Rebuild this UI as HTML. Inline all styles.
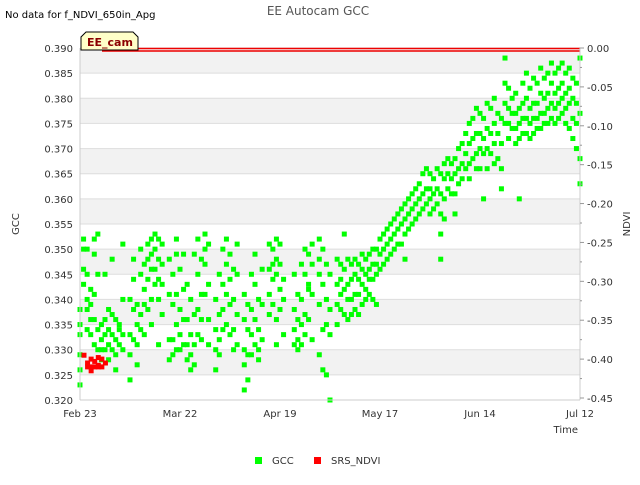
<!DOCTYPE html>
<html><head><meta charset="utf-8"><style>
body{margin:0;background:#fff;font-family:"Liberation Sans","DejaVu Sans",sans-serif}
svg text{font-family:"DejaVu Sans","Liberation Sans",sans-serif}
</style></head><body>
<svg id="c" width="640" height="480" viewBox="0 0 640 480" xmlns="http://www.w3.org/2000/svg">
<text x="5" y="18" font-size="10" fill="#000">No data for f_NDVI_650in_Apg</text>
<text x="318" y="15" font-size="12" fill="#555" text-anchor="middle">EE Autocam GCC</text>
<g id="bands"></g>
<g id="grid"></g>
<line x1="102" y1="48.5" x2="580" y2="48.5" stroke="#e00" stroke-width="1.5"/>
<line x1="102" y1="51" x2="580" y2="51" stroke="#e00" stroke-width="1.5"/>
<g id="pts"></g>
<line x1="80" y1="48" x2="80" y2="400" stroke="#ccc"/>
<line x1="80" y1="400" x2="580" y2="400" stroke="#ccc"/>
<line x1="580" y1="48" x2="580" y2="400" stroke="#ccc"/>
<g id="axes"></g>
<g>
<path d="M81,50 L81,37 L86,32 L133,32 L138,37 L138,50 Z" fill="#ffffc8" stroke="#000" stroke-width="1"/>
<text x="87" y="46" font-size="11" font-weight="bold" fill="#8b0000">EE_cam</text>
</g>
<text transform="translate(19,224) rotate(-90)" font-size="10" fill="#333" text-anchor="middle">GCC</text>
<text transform="translate(630,224) rotate(-90)" font-size="10" fill="#333" text-anchor="middle">NDVI</text>
<text x="578" y="433" font-size="10" fill="#333" text-anchor="end">Time</text>
<g>
<rect x="255" y="457" width="7" height="7" fill="#00ff00"/>
<text x="272" y="464" font-size="10" fill="#333">GCC</text>
<rect x="314" y="457" width="7" height="7" fill="#ff0000"/>
<text x="331" y="464" font-size="10" fill="#333">SRS_NDVI</text>
</g>
</svg>
<script>
const xTickLabels=["Feb 23","Mar 22","Apr 19","May 17","Jun 14","Jul 12"];
const xTickDays=[0,28,56,84,112,140];
const yTicks=[0.390,0.385,0.380,0.375,0.370,0.365,0.360,0.355,0.350,0.345,0.340,0.335,0.330,0.325,0.320];
const y2Ticks=[0,-0.05,-0.10,-0.15,-0.20,-0.25,-0.30,-0.35,-0.40,-0.45];
const gccDays=[0,1,2,3,4,5,6,7,8,9,10,11,12,14,15,16,17,18,19,20,21,22,23,25,26,27,28,29,30,31,32,33,34,35,36,38,39,40,41,42,43,44,46,47,48,49,50,51,53,54,55,56,57,60,61,62,63,64,65,67,68,69,70,72,73,74,75,76,77,78,79,80,81,82,83,84,85,86,87,88,89,90,91,92,93,94,95,96,97,98,99,100,101,102,103,104,105,106,107,108,109,110,111,112,113,114,115,116,117,118,119,120,121,122,123,124,125,126,127,128,129,130,131,132,133,134,135,136,137,138,139,140];
const gccValues=[[0.338,0.335,0.333,0.329,0.326,0.323],[0.352,0.350,0.346,0.343],[0.345,0.340,0.338,0.334,0.350],[0.342,0.339,0.336,0.333],[0.349,0.352,0.341,0.336,0.331],[0.353,0.345,0.334,0.330],[0.335,0.332,0.330,0.328],[0.336,0.333,0.330,0.345],[0.338,0.334,0.331,0.328],[0.337,0.333,0.330,0.348],[0.332,0.329,0.326,0.336],[0.335,0.331,0.334],[0.340,0.333,0.330,0.351],[0.340,0.333,0.329,0.324],[0.348,0.344,0.338,0.332],[0.339,0.335,0.331,0.327],[0.345,0.337,0.334,0.350],[0.347,0.342,0.339,0.333],[0.351,0.348,0.344,0.338],[0.352,0.349,0.346,0.340,0.335],[0.353,0.350,0.346,0.343],[0.352,0.348,0.344,0.340,0.331],[0.351,0.347,0.343,0.337],[0.348,0.341,0.332,0.328],[0.345,0.339,0.332,0.329],[0.352,0.349,0.341,0.335,0.330],[0.346,0.338,0.333,0.330],[0.349,0.342,0.336,0.331],[0.343,0.336,0.331,0.328],[0.340,0.333,0.329,0.326],[0.349,0.337,0.331,0.327],[0.352,0.345,0.338,0.333],[0.348,0.341,0.336,0.332],[0.353,0.350,0.347,0.341],[0.351,0.343,0.336,0.331],[0.340,0.334,0.330,0.326],[0.345,0.337,0.332,0.329],[0.350,0.343,0.338,0.334],[0.352,0.347,0.341,0.335],[0.349,0.344,0.339,0.333],[0.346,0.340,0.334,0.330],[0.351,0.345,0.337,0.331],[0.341,0.336,0.330,0.327,0.322],[0.339,0.334,0.329,0.324],[0.345,0.338,0.333,0.329],[0.349,0.343,0.336,0.331],[0.340,0.334,0.330,0.328],[0.346,0.339,0.332],[0.351,0.346,0.341,0.337],[0.350,0.347,0.344,0.339],[0.352,0.348,0.345,0.336,0.331],[0.351,0.347,0.342,0.338],[0.344,0.340,0.333],[0.338,0.334,0.331,0.345],[0.341,0.336,0.332,0.330],[0.347,0.340,0.335,0.331],[0.350,0.345,0.337,0.333],[0.349,0.343,0.336,0.342],[0.351,0.347,0.341,0.332],[0.352,0.348,0.345,0.339,0.329],[0.350,0.343,0.334,0.326],[0.347,0.340,0.335,0.325],[0.345,0.338,0.333,0.320],[0.348,0.343,0.339,0.335],[0.347,0.341,0.338,0.344],[0.346,0.342,0.337,0.353],[0.348,0.343,0.340,0.336],[0.347,0.344,0.340,0.337],[0.348,0.345,0.341,0.338],[0.347,0.344,0.341,0.337],[0.349,0.346,0.343,0.339],[0.348,0.345,0.342,0.340],[0.349,0.346,0.344,0.341],[0.350,0.347,0.344,0.340],[0.350,0.347,0.345,0.339],[0.352,0.349,0.346],[0.353,0.350,0.347],[0.354,0.351,0.348],[0.355,0.352,0.349],[0.356,0.353,0.350],[0.357,0.354,0.351],[0.358,0.355,0.351],[0.359,0.356,0.353,0.348],[0.360,0.357,0.354],[0.361,0.358,0.355],[0.362,0.359,0.356],[0.363,0.360,0.357],[0.365,0.361,0.358],[0.366,0.362,0.359],[0.365,0.362,0.360,0.357],[0.364,0.361,0.358],[0.366,0.362,0.359],[0.365,0.361,0.357,0.353,0.348],[0.367,0.364,0.360,0.356],[0.368,0.365,0.362],[0.367,0.364,0.361],[0.368,0.365,0.361,0.357],[0.370,0.366,0.363],[0.371,0.367,0.364],[0.373,0.369,0.366],[0.375,0.371,0.367,0.364],[0.376,0.372,0.368],[0.378,0.373,0.369,0.366],[0.377,0.373,0.370,0.366],[0.376,0.372,0.369,0.360],[0.379,0.374,0.370,0.366],[0.378,0.373,0.369],[0.380,0.375,0.371,0.367],[0.377,0.373,0.368],[0.376,0.371,0.366,0.362],[0.388,0.383,0.379,0.375],[0.382,0.378,0.375,0.372],[0.380,0.377,0.374],[0.381,0.377,0.374,0.371],[0.378,0.375,0.372,0.360],[0.383,0.379,0.376,0.373],[0.385,0.380,0.376,0.373],[0.382,0.378,0.375,0.372],[0.384,0.379,0.376,0.373],[0.383,0.379,0.376,0.374],[0.386,0.381,0.377,0.374],[0.384,0.380,0.377,0.375],[0.385,0.381,0.378,0.375],[0.387,0.383,0.379,0.376],[0.385,0.381,0.378,0.375],[0.386,0.382,0.379,0.376],[0.387,0.383,0.380,0.377],[0.385,0.381,0.378,0.375],[0.386,0.382,0.379,0.374],[0.384,0.380,0.376,0.372],[0.383,0.379,0.375,0.370],[0.388,0.377,0.368,0.363]];
const ndviDays=[0,1,1,2,2,2,3,3,4,4,4,5,5,6];
const ndviValues=[-0.395,-0.41,-0.405,-0.40,-0.41,-0.415,-0.403,-0.41,-0.398,-0.408,-0.41,-0.40,-0.41,-0.405];

const NS="http://www.w3.org/2000/svg";
const X0=80,X1=580,Y0=48,Y1=400;
const xs=d=>X0+d*(X1-X0)/140;
const ys=v=>Y0+(0.390-v)*(Y1-Y0)/0.07;
const ys2=v=>Y0+(-v)*350/0.45;
function mk(tag,attrs,parent){const e=document.createElementNS(NS,tag);for(const k in attrs)e.setAttribute(k,attrs[k]);parent.appendChild(e);return e;}
const bands=document.getElementById('bands'),grid=document.getElementById('grid'),axes=document.getElementById('axes'),pts=document.getElementById('pts');
for(let i=0;i<yTicks.length-1;i+=2){
  const r=mk('rect',{x:X0,y:ys(yTicks[i]),width:X1-X0,height:ys(yTicks[i+1])-ys(yTicks[i]),fill:'#f2f2f2'},bands);
  
  
}
yTicks.forEach(v=>{
  const y=ys(v);
  const l=mk('line',{x1:X0,y1:y,x2:X1,y2:y,stroke:'#ddd'},grid);
  
  
  const t=mk('text',{x:73,y:y+4,'font-size':10,fill:'#333','text-anchor':'end'},axes);
  t.textContent=v.toFixed(3);
  
  
});
y2Ticks.forEach((v,i)=>{
  const y=ys2(v);
  const l=mk('line',{x1:X1,y1:y,x2:X1+4,y2:y,stroke:'#999'},axes);
  
  
  if(i<y2Ticks.length-1){const m=mk('line',{x1:X1,y1:ys2(v-0.025),x2:X1+2,y2:ys2(v-0.025),stroke:'#999'},axes);
  
  }
  const t=mk('text',{x:587,y:y+4,'font-size':10,fill:'#333'},axes);
  t.textContent=v.toFixed(2);
  
  
});
xTickDays.forEach((d,i)=>{
  const t=mk('text',{x:xs(d),y:417,'font-size':10,fill:'#333','text-anchor':'middle'},axes);
  t.textContent=xTickLabels[i];
  
  
});
gccDays.forEach((d,i)=>{
  gccValues[i].forEach(v=>{
    const r=mk('rect',{x:xs(d)-2.5,y:ys(v)-2.5,width:5,height:5,fill:'#00ff00'},pts);
    
    
  });
});
ndviDays.forEach((d,i)=>{
  const r=mk('rect',{x:xs(d)+4-2.5,y:ys2(ndviValues[i])-2.5,width:5,height:5,fill:'#ff0000'},pts);
  
  
});
</script>
</body></html>
